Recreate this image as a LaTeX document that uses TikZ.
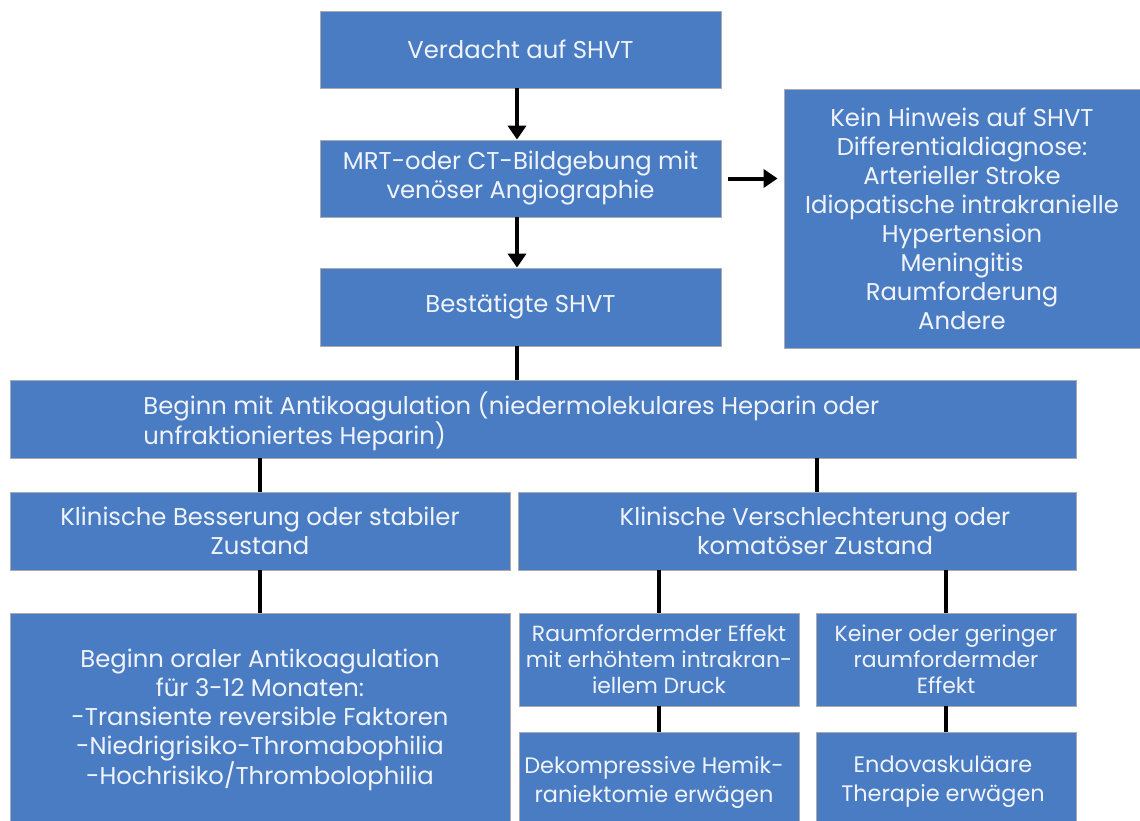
\documentclass[tikz,border=0pt]{standalone}
\usepackage{fontspec}
\setmainfont{Poppins}
\usetikzlibrary{arrows.meta}
\definecolor{boxblue}{RGB}{74,124,196}
\definecolor{boxedge}{RGB}{170,170,175}
\definecolor{boxtext}{RGB}{240,244,250}
\begin{document}
\begin{tikzpicture}[x=1pt,y=-1pt,
  box/.style={draw=boxedge, line width=0.8pt, fill=boxblue, text=boxtext, align=center, inner sep=0pt,
    font=\fontsize{24.3}{29}\selectfont},
  smallbox/.style={box, font=\fontsize{21.9}{26}\selectfont},
  midtext/.style={box, draw=none, font=\fontsize{22.4}{29}\selectfont},
  arr/.style={line width=4pt, -{Triangle[width=18pt,length=14pt]}},
  conn/.style={line width=4pt}]
\useasboundingbox (0,0) rectangle (1140,820);
\node[box, minimum width=401pt, minimum height=77pt] (v) at (520.5,49.5) {Verdacht auf SHVT};
\node[box, minimum width=401pt, minimum height=77pt] (m) at (520.5,178.5) {MRT-oder CT-Bildgebung mit\\venöser Angiographie};
\node[box, minimum width=401pt, minimum height=78pt] (b) at (520.5,307) {Bestätigte SHVT};
\node[box, minimum width=356pt, minimum height=259pt] (k) at (962,218.5) {Kein Hinweis auf SHVT\\Differentialdiagnose:\\Arterieller Stroke\\Idiopatische intrakranielle\\Hypertension\\Meningitis\\Raumforderung\\Andere};
\node[box, minimum width=1066pt, minimum height=78pt] (a) at (543,419) {};
\node[box, anchor=west, align=left, draw=none] (at) at (143,421) {Beginn mit Antikoagulation (niedermolekulares Heparin oder\\unfraktioniertes Heparin)};
\node[box, minimum width=500pt, minimum height=78pt] (s) at (260,531) {Klinische Besserung oder stabiler\\Zustand};
\node[box, minimum width=558pt, minimum height=78pt] (c) at (797,531) {};
\node[box, draw=none] (ct) at (815,531) {Klinische Verschlechterung oder\\komatöser Zustand};
\node[box, minimum width=500pt, minimum height=220pt] (o) at (260,723) {};
\node[box, draw=none] (ot) at (260,720) {Beginn oraler Antikoagulation\\für 3-12 Monaten:\\-Transiente reversible Faktoren\\-Niedrigrisiko-Thromabophilia\\-Hochrisiko/Thrombolophilia};
\node[smallbox, minimum width=280pt, minimum height=93pt] (r) at (659,659.5) {Raumfordermder Effekt\\mit erhöhtem intrakran-\\iellem Druck};
\node[smallbox, minimum width=260pt, minimum height=93pt] (n) at (946,659.5) {Keiner oder geringer\\raumfordermder\\Effekt};
\node[box, minimum width=280pt, minimum height=100pt] (d) at (659,782) {};
\node[midtext] (dt) at (654,782) {Dekompressive Hemik-\\raniektomie erwägen};
\node[box, minimum width=260pt, minimum height=100pt] (e) at (946,782) {};
\node[midtext] (et) at (943,782) {Endovaskuläare\\Therapie erwägen};
\draw[arr] ([xshift=-3.5pt]v.south) -- ([xshift=-3.5pt]m.north);
\draw[arr] ([xshift=-3.5pt]m.south) -- ([xshift=-3.5pt]b.north);
\draw[arr, shorten <=7pt, shorten >=6pt] (m.east) -- (m.east -| k.west);
\draw[conn] ([xshift=-3.5pt]b.south) -- ([xshift=-3.5pt]b.south |- a.north);
\draw[conn] (s.north) -- (s.north |- a.south);
\draw[conn] ([xshift=20pt]c.north) -- ([xshift=20pt]c.north |- a.south);
\draw[conn] (o.north) -- (o.north |- s.south);
\draw[conn] (r.north) -- (r.north |- c.south);
\draw[conn] (n.north) -- (n.north |- c.south);
\draw[conn] (r.south) -- (r.south |- d.north);
\draw[conn] (n.south) -- (n.south |- e.north);
\end{tikzpicture}
\end{document}
